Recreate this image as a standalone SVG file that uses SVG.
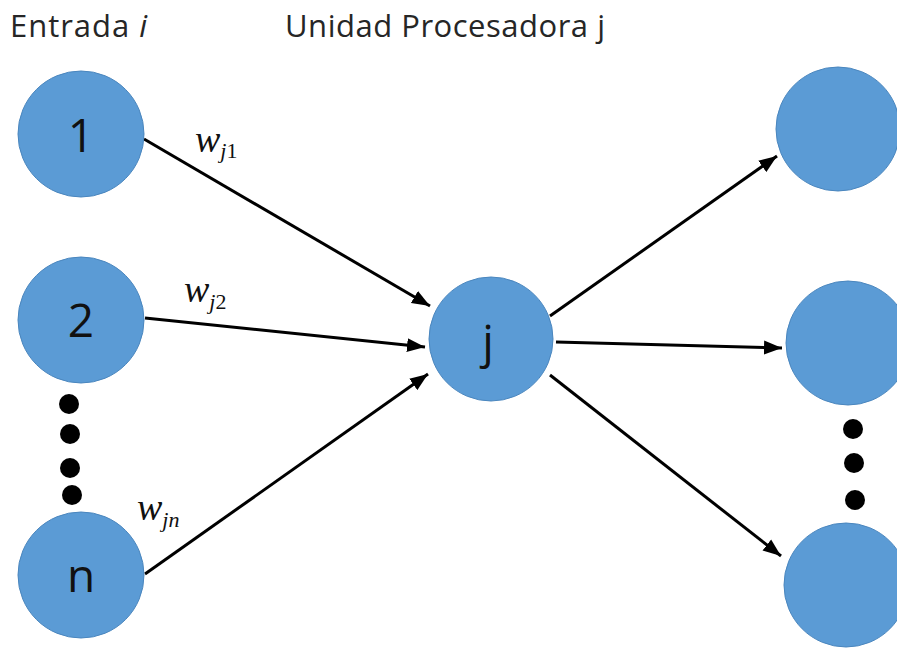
<svg xmlns="http://www.w3.org/2000/svg" width="897" height="649" viewBox="0 0 897 649">
<style>
.node{fill:#5B9BD5;stroke:#4A86BE;stroke-width:1}
.lbl{font-family:"Open Sans","Liberation Sans",sans-serif;font-size:46px;fill:#111;text-anchor:middle}
.hdr{font-family:"Open Sans","Liberation Sans",sans-serif;font-size:31px;fill:#262626}
.w{font-family:"Liberation Serif",serif;font-style:italic;font-size:38px;fill:#111}
.sub{font-family:"Liberation Serif",serif;font-size:22px;fill:#111}
.edge{stroke:#000;stroke-width:3;fill:none;marker-end:url(#ah)}
.dot{fill:#000}
</style>
<defs>
<marker id="ah" markerUnits="userSpaceOnUse" markerWidth="20" markerHeight="16" refX="18" refY="8" orient="auto">
<path d="M0,1 L18,8 L0,15 Z" fill="#000"/>
</marker>
</defs>
<text class="hdr" x="10" y="37" textLength="137" lengthAdjust="spacing">Entrada <tspan font-style="italic">i</tspan></text>
<text class="hdr" x="285" y="37" textLength="320" lengthAdjust="spacing">Unidad Procesadora j</text>
<g id="edges">
<line class="edge" x1="144" y1="139" x2="430" y2="306"/>
<line class="edge" x1="145" y1="318" x2="425" y2="347"/>
<line class="edge" x1="145" y1="574" x2="428" y2="374"/>
<line class="edge" x1="550" y1="316" x2="777" y2="156"/>
<line class="edge" x1="556" y1="342" x2="782" y2="348"/>
<line class="edge" x1="550" y1="375" x2="781" y2="556"/>
</g>
<g id="labels">
<text class="w" x="195" y="152">w<tspan class="sub" dy="6" font-style="italic">j</tspan><tspan class="sub" font-style="normal">1</tspan></text>
<text class="w" x="184" y="302">w<tspan class="sub" dy="7" font-style="italic">j</tspan><tspan class="sub" font-style="normal">2</tspan></text>
<text class="w" x="137" y="520">w<tspan class="sub" dy="7" font-style="italic">jn</tspan></text>
</g>
<g id="n1"><circle class="node" cx="81" cy="134" r="63"/><text class="lbl" x="81" y="152">1</text></g>
<g id="n2"><circle class="node" cx="81" cy="320" r="63"/><text class="lbl" x="81" y="337">2</text></g>
<g id="dotsL"><circle class="dot" cx="69" cy="404" r="10"/><circle class="dot" cx="70" cy="434" r="10"/><circle class="dot" cx="70" cy="468" r="10"/><circle class="dot" cx="72" cy="495" r="10"/></g>
<g id="nn"><circle class="node" cx="81" cy="575" r="63"/><text class="lbl" x="81" y="592">n</text></g>
<g id="nj"><circle class="node" cx="491" cy="339" r="62"/><text class="lbl" x="488" y="358">j</text></g>
<g id="o1"><circle class="node" cx="838" cy="129" r="62"/></g>
<g id="o2"><circle class="node" cx="848" cy="343" r="62"/></g>
<g id="dotsR"><circle class="dot" cx="853" cy="429" r="10"/><circle class="dot" cx="854" cy="463" r="10"/><circle class="dot" cx="855" cy="500" r="10"/></g>
<g id="o3"><circle class="node" cx="846" cy="585" r="62"/></g>
</svg>
